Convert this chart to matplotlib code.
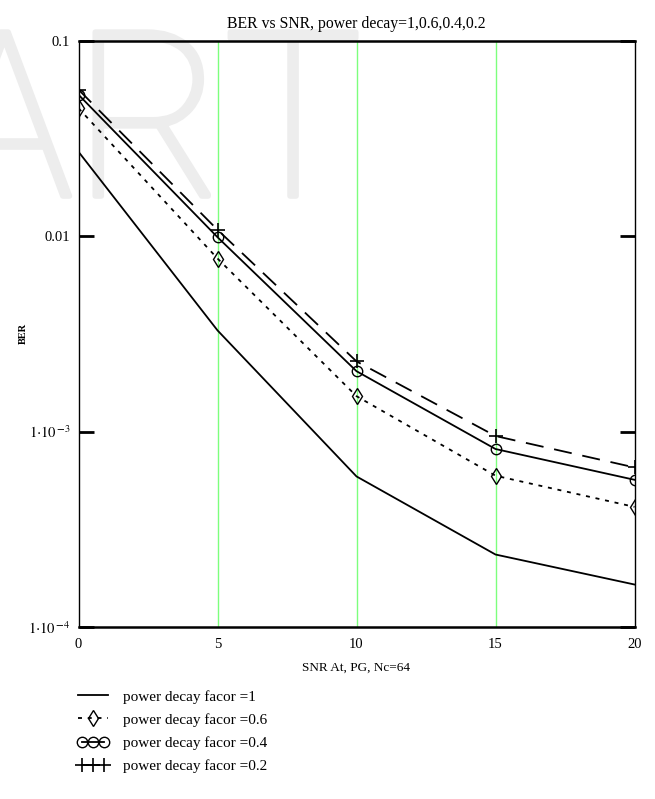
import matplotlib
matplotlib.use("Agg")
import matplotlib.pyplot as plt
import matplotlib.patheffects as pe
from matplotlib.legend_handler import HandlerLine2D

plt.rcParams['font.family'] = ['Liberation Serif', 'DejaVu Serif']
plt.rcParams['mathtext.fontset'] = 'stix'

# SNR points and BER for each power decay factor
snr = [0, 5, 10, 15, 20]
ber_pd_1 = [0.0271, 0.0033, 5.9e-4, 2.35e-4, 1.65e-4]
ber_pd_06 = [0.0453, 0.0077, 1.52e-3, 5.95e-4, 4.12e-4]
ber_pd_04 = [0.0531, 0.0099, 2.04e-3, 8.15e-4, 5.67e-4]
ber_pd_02 = [0.0564, 0.0108, 2.29e-3, 9.5e-4, 6.56e-4]

series_labels = ['power decay facor =1', 'power decay facor =0.6',
                 'power decay facor =0.4', 'power decay facor =0.2']
marker_lines = [5, 10, 15]
y_ticks = [1e-4, 1e-3, 1e-2, 1e-1]
y_tick_labels = [r'$1{\cdot}10^{\,\mathbf{-}4}$', r'$1{\cdot}10^{\,\mathbf{-}3}$', '0.01', '0.1']
x_ticks = [0, 5, 10, 15, 20]

W, H = 655, 799
fig = plt.figure(figsize=(W / 100, H / 100), dpi=100)

# faint background lettering
wm_color = '#ededed'
fig.text(362 / W, 1 - 196 / H, 'ART', ha='right', va='baseline',
         fontsize=166, color=wm_color, family=['Roboto', 'DejaVu Sans'],
         fontweight='light', zorder=0,
         path_effects=[pe.withStroke(linewidth=4, foreground=wm_color)])

left, right, top, bottom = 78.5, 634.5, 41, 627
ax = fig.add_axes([left / W, 1 - bottom / H, (right - left) / W, (bottom - top) / H])
ax.patch.set_alpha(0)
ax.set_zorder(1)

for xv in marker_lines:
    ax.axvline(xv, color='#7dff7d', lw=1.0, zorder=1)

lw = 1.3
l1, = ax.plot(snr, ber_pd_1, color='black', lw=lw, label=series_labels[0], zorder=3)
l2, = ax.plot(snr, ber_pd_06, color='black', lw=lw, ls=(0, (2.2, 3.2)),
              marker='d', ms=8, mfc='none', mec='black', mew=1.0,
              label=series_labels[1], zorder=3)
l3, = ax.plot(snr, ber_pd_04, color='black', lw=lw, marker='o', ms=7.5,
              mfc='none', mec='black', mew=1.0, label=series_labels[2], zorder=3)
l4, = ax.plot(snr, ber_pd_02, color='black', lw=lw, ls=(0, (10, 6)),
              marker='+', ms=10, mew=1.2, label=series_labels[3], zorder=3)

ax.set_yscale('log')
ax.set_xlim(0, 20)
ax.set_ylim(1e-4, 0.1)
ax.set_yticks(y_ticks)
ax.set_yticklabels(y_tick_labels)
ax.minorticks_off()
ax.set_xticks(x_ticks)
ax.set_xticklabels([str(v) for v in x_ticks])
ax.tick_params(axis='y', which='major', direction='in', length=11, width=2,
               right=True, labelsize=10.5, pad=6)
ax.tick_params(axis='x', which='major', length=0, labelsize=10.5, pad=8)
for s in ax.spines.values():
    s.set_linewidth(1.0)
    s.set_color('black')
ax.spines['top'].set_linewidth(1.8)
ax.spines['bottom'].set_linewidth(1.8)

ax.set_title('BER vs SNR, power decay=1,0.6,0.4,0.2', fontsize=11.3, pad=9)
ax.set_xlabel('SNR At, PG, Nc=64', fontsize=9.5, labelpad=8)
fig.text(23 / W, 1 - 333 / H, 'BER', rotation=90, ha='center', va='center',
         fontsize=7.5, fontweight='bold')

fig.legend(handles=[l1, l2, l3, l4], loc='upper left',
           bbox_to_anchor=(64 / W, 1 - 676 / H), frameon=False,
           fontsize=11, handlelength=2.0, handletextpad=0.95,
           labelspacing=0.62, numpoints=1,
           handler_map={l3: HandlerLine2D(numpoints=3),
                        l4: HandlerLine2D(numpoints=3)})

fig.savefig('out.png', dpi=100)
